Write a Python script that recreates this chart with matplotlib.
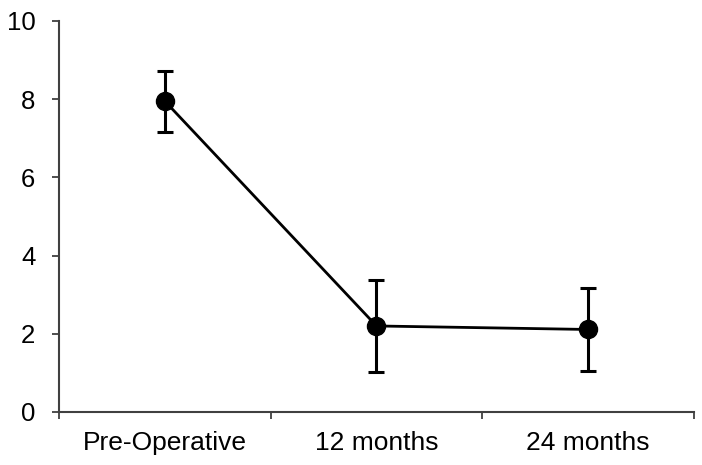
import matplotlib
matplotlib.use("Agg")
from matplotlib import pyplot as plt

categories = ['Pre-Operative', '12 months', '24 months']
means = [7.95, 2.2, 2.11]
errors = [0.78, 1.18, 1.06]

plt.rcParams['font.family'] = ['Liberation Sans', 'DejaVu Sans']

fig = plt.figure(figsize=(7.02, 4.65), dpi=100)
ax = fig.add_axes([0.084, 0.114, 0.9046, 0.841])

xs = [i + 0.5 for i in range(len(categories))]
ax.errorbar(xs, means, yerr=errors, color='black', marker='o', markersize=13,
            linewidth=2.0, elinewidth=2.2, capsize=6, capthick=2.2)

ax.set_xlim(0, 3)
ax.set_ylim(0, 10)
ax.set_yticks([0, 2, 4, 6, 8, 10])
ax.set_xticks([0, 1, 2, 3])
ax.set_xticklabels([])
ax.set_xticks(xs, minor=True)
ax.set_xticklabels(categories, minor=True)
ax.tick_params(axis='x', which='minor', length=0, pad=14, labelsize=19)
ax.tick_params(axis='x', which='major', length=5, width=1.3, color='#404040')
ax.tick_params(axis='y', length=5, width=1.3, color='#404040', pad=12, labelsize=18.5)

for side in ['top', 'right']:
    ax.spines[side].set_visible(False)
for side in ['left', 'bottom']:
    ax.spines[side].set_color('#404040')
    ax.spines[side].set_linewidth(1.5)

fig.savefig('out.png', dpi=100)
